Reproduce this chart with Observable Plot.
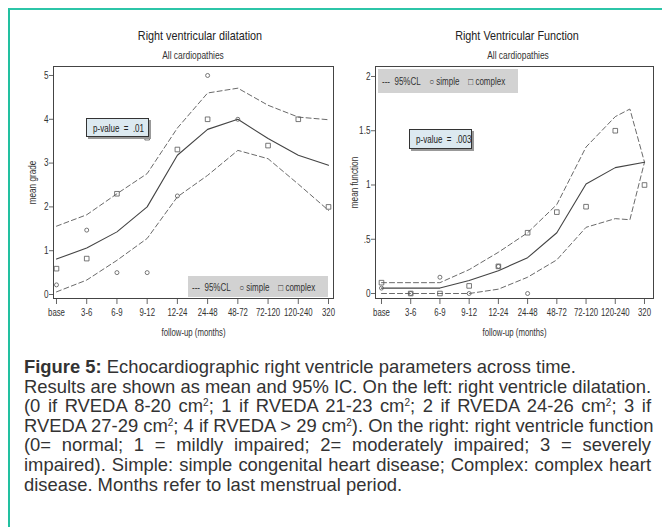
<!DOCTYPE html>
<html>
<head>
<meta charset="utf-8">
<script src="https://cdn.jsdelivr.net/npm/d3@7"></script>
<script src="https://cdn.jsdelivr.net/npm/@observablehq/plot@0.6"></script>
<style>
  html, body { margin: 0; padding: 0; background: #fff; }
  #page { position: relative; width: 662px; height: 527px; overflow: hidden; background: #fff; }
  #border { position: absolute; left: 8px; top: 8px; right: -2px; bottom: -2px; border-top: 2px solid #2cc5a8; border-left: 2px solid #22c0a0; }
  .narrow { font-family: "Liberation Sans", Arial, sans-serif; color: #222; }
  .title { position: absolute; z-index: 2; width: 240px; text-align: center; font-size: 13.5px; transform: scaleX(0.8); }
  .sub { position: absolute; z-index: 2; width: 240px; text-align: center; font-size: 10.5px; color: #333; transform: scaleX(0.8); }
  .chart { position: absolute; top: 60px; z-index: 1; }
  .legend { position: absolute; z-index: 2; background: #d2d2d2; }
  .legend span { position: absolute; left: 4px; top: 50%; font-size: 10px; color: #333; white-space: pre; transform-origin: 0 50%; transform: translateY(-50%) scaleX(0.8); }
  .pbox { position: absolute; z-index: 2; background: #dce9f0; border: 1px solid #333; box-shadow: 2px 2px 0 #999; box-sizing: border-box; }
  .pbox span { position: absolute; left: 0; right: 0; top: 50%; text-align: center; font-size: 10px; color: #222; white-space: pre; transform: translateY(-50%) scaleX(0.8); }
  #caption { position: absolute; left: 24px; top: 357px; width: 627px; font-family: "Liberation Sans", Arial, sans-serif; font-size: 18.4px; line-height: 19.6px; color: #333; }
  #caption .j { text-align: justify; text-align-last: justify; white-space: nowrap; }
  #caption sup { font-size: 10px; vertical-align: 6px; line-height: 0; }
</style>
</head>
<body>
<div id="page">
  <div id="border"></div>
  <div id="left" class="chart" style="left:10px;"></div>
  <div id="right" class="chart" style="left:332px;"></div>
  <div class="title narrow" style="left:80px; top:28px;">Right ventricular dilatation</div>
  <div class="sub narrow" style="left:73px; top:49px;">All cardiopathies</div>
  <div class="title narrow" style="left:397px; top:28px;">Right Ventricular Function</div>
  <div class="sub narrow" style="left:398px; top:49px;">All cardiopathies</div>
  <div class="legend" style="left:188px; top:276px; width:140px; height:21px;"><span class="narrow">---  95%CL    ○ simple    □ complex</span></div>
  <div class="legend" style="left:378px; top:69px; width:140px; height:24px;"><span class="narrow">---  95%CL    ○ simple    □ complex</span></div>
  <div class="pbox" style="left:86px; top:118px; width:63px; height:19px;"><span class="narrow">p-value  =  .01</span></div>
  <div class="pbox" style="left:409px; top:129px; width:63px; height:20px;"><span class="narrow">p-value  =  .003</span></div>
  <div id="caption">
    <div><b>Figure 5:</b> Echocardiographic right ventricle parameters across time.</div>
    <div class="j">Results are shown as mean and 95% IC. On the left: right ventricle dilatation.</div>
    <div class="j">(0 if RVEDA 8-20 cm<sup>2</sup>; 1 if RVEDA 21-23 cm<sup>2</sup>; 2 if RVEDA 24-26 cm<sup>2</sup>; 3 if</div>
    <div class="j">RVEDA 27-29 cm<sup>2</sup>; 4 if RVEDA &gt; 29 cm<sup>2</sup>). On the right: right ventricle function</div>
    <div class="j">(0= normal; 1 = mildly impaired; 2= moderately impaired; 3 = severely</div>
    <div class="j">impaired). Simple: simple congenital heart disease; Complex: complex heart</div>
    <div>disease. Months refer to last menstrual period.</div>
  </div>
</div>
<script>
// ---- Data ----
const categories = ["base","3-6","6-9","9-12","12-24","24-48","48-72","72-120","120-240","320"];
const catIndex = [0,1,2,3,4,5,6,7,8,9];

// Right ventricular dilatation (mean grade)
const dilMean  = [0.81, 1.06, 1.43, 2.00, 3.18, 3.77, 4.00, 3.56, 3.18, 2.95];
const dilUpper = [1.56, 1.82, 2.30, 2.76, 3.80, 4.60, 4.71, 4.32, 4.05, 3.99];
const dilLower = [0.06, 0.33, 0.78, 1.28, 2.23, 2.72, 3.29, 3.10, 2.52, 1.92];
const dilSimple  = [0.22, 1.47, 0.50, 0.50, 2.25, 5.00, 4.00, null, null, null];
const dilComplex = [0.59, 0.82, 2.30, 3.58, 3.31, 4.00, null, 3.40, 4.00, 2.00];

// Right ventricular function (mean function)
const funMean  = [0.05, 0.05, 0.05, 0.12, 0.21, 0.33, 0.56, 1.01, 1.16, 1.21];
const funBandX = [0, 1, 2, 3, 4, 5, 6, 7, 8, 8.5, 9];
const funUpper = [0.10, 0.10, 0.10, 0.22, 0.38, 0.56, 0.82, 1.35, 1.63, 1.70, 1.21];
const funLower = [0.00, 0.00, 0.00, 0.00, 0.04, 0.15, 0.31, 0.61, 0.69, 0.68, 1.21];
const funSimple  = [0.05, 0.00, 0.15, 0.00, 0.25, 0.00, null, null, null, null];
const funComplex = [0.10, 0.00, 0.00, 0.07, 0.25, 0.56, 0.75, 0.80, 1.50, 1.00];

const yTicksDil = [0, 1, 2, 3, 4, 5];
const yTicksFun = [0, 0.5, 1, 1.5, 2];
const yFmtFun = d => d === 0.5 ? ".5" : String(d);

// ---- helpers ----
const pts = (xs, ys) => xs.map((x, i) => ({x, y: ys[i]})).filter(d => d.y != null);
const FONT = '"Liberation Sans", Arial, sans-serif';

// horizontally condense the chart's texts (narrow-font look) without moving them
function condense(svg, k) {
  svg.querySelectorAll("text").forEach(t => {
    const tr = t.getAttribute("transform") || "";
    const xs = t.getAttribute("x");
    let pre = "";
    if (xs != null && /^-?[\d.]+$/.test(xs.trim())) {
      pre = ` translate(${+xs},0)`;
      t.removeAttribute("x");
    }
    t.setAttribute("transform", `${tr}${pre} scale(${k},1)`);
  });
  return svg;
}

function chart({width, xDomain, yDomain, yTicks, yFmt, yLabel, mean, bx, upper, lower, simple, complex}) {
  const svg = Plot.plot({
    width, height: 280,
    marginLeft: 43, marginRight: width - 43 - 278 - (width === 330 ? 2 : 0), marginTop: 6, marginBottom: 42,
    x: {domain: xDomain},
    y: {domain: yDomain},
    style: {fontFamily: FONT, fontSize: "10px", color: "#333", background: "none", overflow: "visible"},
    marks: [
      Plot.axisY({ticks: yTicks, tickFormat: yFmt, tickSize: 4, tickPadding: 1, stroke: "#666",
        label: yLabel, labelAnchor: "center", labelOffset: 25, labelArrow: "none", fontSize: 10.5}),
      Plot.axisX({ticks: catIndex, tickFormat: i => categories[i], tickSize: 6, tickPadding: 4, stroke: "#666",
        label: "follow-up (months)", labelAnchor: "center", labelOffset: 37, labelArrow: "none", fontSize: 10}),
      Plot.line(pts(bx, upper), {x: "x", y: "y", stroke: "#6a6a6a", strokeWidth: 1, strokeDasharray: "5,3"}),
      Plot.line(pts(bx, lower), {x: "x", y: "y", stroke: "#6a6a6a", strokeWidth: 1, strokeDasharray: "5,3"}),
      Plot.line(pts(catIndex, mean), {x: "x", y: "y", stroke: "#444", strokeWidth: 1.1}),
      Plot.dot(pts(catIndex, simple), {x: "x", y: "y", r: 2, symbol: "circle", stroke: "#555", strokeWidth: 0.8, fill: "none"}),
      Plot.dot(pts(catIndex, complex), {x: "x", y: "y", r: 2.6, symbol: "square", stroke: "#555", strokeWidth: 0.8, fill: "none"}),
      Plot.frame({stroke: "#444", strokeWidth: 1})
    ]
  });
  return condense(svg, 0.78);
}

document.getElementById("left").append(chart({
  width: 330, xDomain: [-0.099, 9.165], yDomain: [-0.091, 5.205],
  yTicks: yTicksDil, yFmt: d => String(d), yLabel: "mean grade",
  mean: dilMean, bx: catIndex, upper: dilUpper, lower: dilLower, simple: dilSimple, complex: dilComplex
}));
document.getElementById("right").append(chart({
  width: 328, xDomain: [-0.205, 9.308], yDomain: [-0.046, 2.092],
  yTicks: yTicksFun, yFmt: yFmtFun, yLabel: "mean function",
  mean: funMean, bx: funBandX, upper: funUpper, lower: funLower, simple: funSimple, complex: funComplex
}));
</script>
</body>
</html>
